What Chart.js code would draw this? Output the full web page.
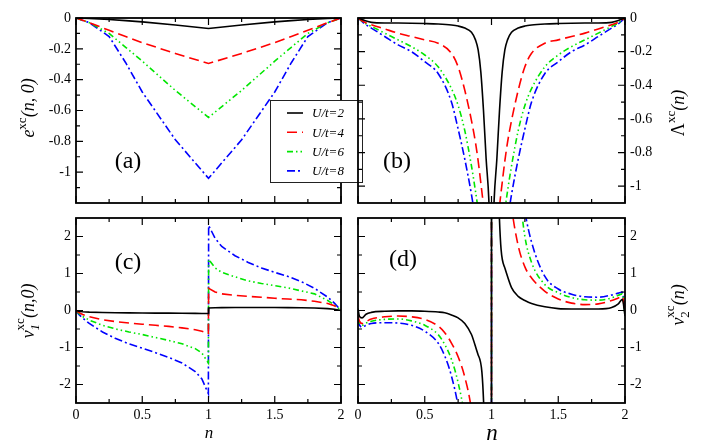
<!DOCTYPE html>
<html>
<head>
<meta charset="utf-8">
<script src="https://cdn.jsdelivr.net/npm/chart.js@4.4.1/dist/chart.umd.min.js"></script>
<style>
  body { margin: 0; background: #fff; }
  #wrap { position: relative; width: 703px; height: 448px; }
  #wrap canvas { position: absolute; left: 0; top: 0; }
</style>
</head>
<body>
<div id="wrap">
  <canvas id="cA" width="703" height="448"></canvas>
  <canvas id="cB" width="703" height="448"></canvas>
  <canvas id="cC" width="703" height="448"></canvas>
  <canvas id="cD" width="703" height="448"></canvas>
</div>
<script>
// series
const seriesNames = ["U/t=2", "U/t=4", "U/t=6", "U/t=8"];
const seriesColors = ["#000000", "#ff0000", "#00e600", "#0000ff"];
const seriesDash = [[], [10, 5], [6, 3, 1.5, 3, 1.5, 3], [8, 3, 2, 3]];

// ticks
const xLabels = [0, 0.5, 1, 1.5, 2];
const xMinor = [0.25, 0.75, 1.25, 1.75];
const yLabelsAB = [0, -0.2, -0.4, -0.6, -0.8, -1];
const yMinorA = [-0.1, -0.3, -0.5, -0.7, -0.9, -1.1];
const yMinorB = [-0.1, -0.3, -0.5, -0.7, -0.9];
const yLabelsCD = [-2, -1, 0, 1, 2];
const yMinorCD = [-1.5, -0.5, 0.5, 1.5];

// (a) e^xc(n,0)
const nA = [0, 0.1, 0.25, 0.375, 0.5, 0.75, 1, 1.25, 1.5, 1.625, 1.75, 1.9, 2];
const excU2 = [0, -0.003, -0.01, -0.017, -0.025, -0.045, -0.068, -0.045, -0.025, -0.017, -0.01, -0.003, 0];
const excU4 = [0, -0.03, -0.08, -0.12, -0.16, -0.23, -0.295, -0.23, -0.16, -0.12, -0.08, -0.03, 0];
const excU6 = [0, -0.03, -0.1, -0.19, -0.28, -0.47, -0.645, -0.47, -0.28, -0.19, -0.1, -0.03, 0];
const excU8 = [0, -0.03, -0.12, -0.29, -0.48, -0.79, -1.04, -0.79, -0.48, -0.29, -0.12, -0.03, 0];

// (b) Lambda^xc(n)
const nB = [0, 0.05, 0.1, 0.2, 0.3, 0.4, 0.5, 0.6, 0.7, 0.75, 0.8, 0.85, 0.88, 0.9, 0.92, 0.94, 0.96, 0.98, 1,
  1.02, 1.04, 1.06, 1.08, 1.1, 1.12, 1.15, 1.2, 1.25, 1.3, 1.4, 1.5, 1.6, 1.7, 1.8, 1.9, 1.95, 2];
const lamU2 = [0, -0.015, -0.026, -0.03, -0.03, -0.031, -0.033, -0.036, -0.042, -0.048, -0.06, -0.085, -0.13, -0.19, -0.32, -0.55, -0.84, -1.08, -1.6,
  -1.08, -0.84, -0.55, -0.32, -0.19, -0.13, -0.085, -0.06, -0.048, -0.042, -0.036, -0.033, -0.031, -0.03, -0.03, -0.026, -0.015, 0];
const lamU4 = [0, -0.025, -0.04, -0.065, -0.09, -0.11, -0.13, -0.15, -0.21, -0.29, -0.43, -0.61, -0.74, -0.85, -0.98, -1.12, -1.3, -1.6, -2,
  -1.6, -1.3, -1.12, -0.98, -0.85, -0.74, -0.61, -0.43, -0.29, -0.21, -0.15, -0.13, -0.11, -0.09, -0.065, -0.04, -0.025, 0];
const lamU6 = [0, -0.03, -0.05, -0.09, -0.13, -0.17, -0.22, -0.29, -0.42, -0.52, -0.67, -0.88, -1.03, -1.14, -1.27, -1.42, -1.6, -1.9, -2.3,
  -1.9, -1.6, -1.42, -1.27, -1.14, -1.03, -0.88, -0.67, -0.52, -0.42, -0.29, -0.22, -0.17, -0.13, -0.09, -0.05, -0.03, 0];
const lamU8 = [0, -0.035, -0.06, -0.11, -0.16, -0.2, -0.26, -0.33, -0.5, -0.66, -0.84, -1.05, -1.2, -1.3, -1.42, -1.56, -1.75, -2, -2.4,
  -2, -1.75, -1.56, -1.42, -1.3, -1.2, -1.05, -0.84, -0.66, -0.5, -0.33, -0.26, -0.2, -0.16, -0.11, -0.06, -0.035, 0];

// (c) v1^xc(n,0)
const nC = [0, 0.02, 0.05, 0.1, 0.2, 0.3, 0.4, 0.5, 0.6, 0.7, 0.8, 0.9, 0.95, 0.999,
  1.001, 1.05, 1.1, 1.2, 1.3, 1.4, 1.5, 1.6, 1.7, 1.8, 1.9, 1.95, 2];
const v1U2 = [0, -0.02, -0.035, -0.045, -0.055, -0.06, -0.065, -0.068, -0.07, -0.072, -0.075, -0.078, -0.08, -0.08,
  0.07, 0.075, 0.078, 0.08, 0.08, 0.08, 0.08, 0.078, 0.074, 0.066, 0.05, 0.035, 0];
const v1U4 = [0, -0.05, -0.11, -0.17, -0.25, -0.3, -0.34, -0.37, -0.4, -0.43, -0.47, -0.52, -0.56, -0.62,
  0.6, 0.5, 0.45, 0.41, 0.38, 0.36, 0.33, 0.31, 0.29, 0.25, 0.19, 0.13, 0];
const v1U6 = [0, -0.07, -0.16, -0.26, -0.4, -0.5, -0.58, -0.65, -0.73, -0.81, -0.9, -1.03, -1.15, -1.42,
  1.38, 1.15, 1.03, 0.91, 0.8, 0.73, 0.67, 0.61, 0.53, 0.45, 0.27, 0.15, 0];
const v1U8 = [0, -0.1, -0.2, -0.35, -0.58, -0.76, -0.9, -1.02, -1.14, -1.27, -1.42, -1.65, -1.85, -2.25,
  2.3, 1.95, 1.73, 1.48, 1.3, 1.15, 1.03, 0.92, 0.78, 0.6, 0.36, 0.2, 0];

// (d) v2^xc(n)
const nD = [0, 0.01, 0.03, 0.06, 0.1, 0.2, 0.3, 0.4, 0.5, 0.6, 0.65, 0.7, 0.75, 0.8, 0.85, 0.9, 0.95, 0.999,
  1.001, 1.05, 1.1, 1.15, 1.2, 1.25, 1.3, 1.4, 1.5, 1.6, 1.7, 1.8, 1.9, 1.95, 1.98, 2];
const v2U2 = [0.05, -0.15, -0.2, -0.1, -0.05, -0.02, -0.01, -0.01, -0.02, -0.04, -0.06, -0.12, -0.2, -0.35, -0.65, -1.2, -3.5, -40,
  40, 3.6, 1.15, 0.62, 0.38, 0.27, 0.19, 0.1, 0.05, 0.04, 0.04, 0.04, 0.08, 0.18, 0.3, -0.15];
const v2U4 = [-0.15, -0.28, -0.35, -0.3, -0.23, -0.17, -0.15, -0.17, -0.24, -0.42, -0.6, -0.88, -1.25, -1.8, -2.7, -4.5, -9, -40,
  40, 9, 4.5, 2.8, 1.75, 1.18, 0.88, 0.52, 0.31, 0.2, 0.16, 0.18, 0.27, 0.34, 0.38, -0.1];
const v2U6 = [-0.2, -0.33, -0.4, -0.34, -0.29, -0.24, -0.23, -0.28, -0.4, -0.65, -0.92, -1.32, -1.95, -2.9, -4.5, -7, -12, -40,
  40, 12, 7, 5, 3.5, 2.0, 1.3, 0.7, 0.48, 0.35, 0.29, 0.28, 0.34, 0.41, 0.45, -0.1];
const v2U8 = [-0.25, -0.38, -0.45, -0.4, -0.35, -0.33, -0.34, -0.4, -0.56, -0.88, -1.23, -1.77, -2.6, -4, -6, -9, -15, -40,
  40, 15, 9, 6, 4.2, 2.7, 1.85, 0.92, 0.58, 0.44, 0.37, 0.36, 0.42, 0.47, 0.5, -0.1];

const SERIF = "'Liberation Serif', 'DejaVu Serif', serif";
const W = 703, H = 448;
const Y_AXIS_W = 50, X_AXIS_H = 30;

function buildSets(xs, list) {
  return list.map((ys, k) => ({
    label: seriesNames[k],
    data: xs.map((x, i) => ({ x: x, y: ys[i] })),
    borderColor: seriesColors[k],
    borderDash: seriesDash[k],
    borderWidth: 1.6,
    pointRadius: 0,
    fill: false
  }));
}

// draws text made of pieces (italic, super/subscript), optionally rotated
function drawRich(ctx, parts, x, y, rotate) {
  ctx.save();
  ctx.translate(x, y);
  if (rotate) ctx.rotate(-Math.PI / 2);
  ctx.textBaseline = "alphabetic";
  ctx.textAlign = "left";
  ctx.fillStyle = "#000";
  const widths = parts.map((p) => { ctx.font = p.f; return ctx.measureText(p.t).width; });
  const pos = [];
  let cursor = 0;
  parts.forEach((p, i) => {
    pos[i] = p.back ? pos[i - 1] : cursor;
    cursor = p.back ? Math.max(cursor, pos[i] + widths[i]) : cursor + widths[i];
  });
  parts.forEach((p, i) => {
    ctx.font = p.f;
    ctx.fillText(p.t, pos[i] - cursor / 2, p.dy || 0);
  });
  ctx.restore();
}

function decorPlugin(p) {
  return {
    id: "decor",
    afterDatasetsDraw(chart) {
      const { ctx, chartArea: a, scales } = chart;
      const xs = scales.x, ys = scales.y;
      ctx.save();
      ctx.strokeStyle = "#000";
      ctx.lineWidth = 1.2;
      ctx.beginPath();
      const xTick = (v, len) => {
        const px = xs.getPixelForValue(v);
        ctx.moveTo(px, a.bottom); ctx.lineTo(px, a.bottom - len);
        ctx.moveTo(px, a.top); ctx.lineTo(px, a.top + len);
      };
      const yTick = (v, len) => {
        const py = ys.getPixelForValue(v);
        ctx.moveTo(a.left, py); ctx.lineTo(a.left + len, py);
        ctx.moveTo(a.right, py); ctx.lineTo(a.right - len, py);
      };
      xLabels.forEach((v) => xTick(v, 7));
      xMinor.forEach((v) => xTick(v, 4));
      p.yMajor.forEach((v) => yTick(v, 7));
      p.yMinor.forEach((v) => yTick(v, 4));
      ctx.stroke();
      ctx.lineWidth = 1.8;
      ctx.strokeRect(a.left, a.top, a.right - a.left, a.bottom - a.top);

      // panel tag
      ctx.fillStyle = "#000";
      ctx.font = "24px " + SERIF;
      ctx.textAlign = "center";
      ctx.textBaseline = "middle";
      ctx.fillText(p.tag, p.tagX, p.tagY);
      ctx.restore();

      // axis titles
      drawRich(ctx, p.yTitle, p.yTitleX, p.yTitleY, true);
      if (p.xTitle) drawRich(ctx, p.xTitle, p.xTitleX, p.xTitleY, false);
      if (p.legend) drawLegend(ctx);
    }
  };
}

function drawLegend(ctx) {
  ctx.save();
  ctx.fillStyle = "#fff";
  ctx.fillRect(270, 100, 93, 83);
  ctx.strokeStyle = "#222";
  ctx.lineWidth = 1;
  ctx.strokeRect(270.5, 100.5, 92, 82);
  ctx.font = "italic 13px " + SERIF;
  ctx.textAlign = "left";
  ctx.textBaseline = "middle";
  seriesNames.forEach((name, k) => {
    const y = 113 + k * 19.3;
    ctx.beginPath();
    ctx.strokeStyle = seriesColors[k];
    ctx.lineWidth = 1.6;
    ctx.setLineDash(seriesDash[k]);
    ctx.moveTo(287, y);
    ctx.lineTo(303, y);
    ctx.stroke();
    ctx.setLineDash([]);
    ctx.fillStyle = "#000";
    ctx.fillText(name, 312, y + 1);
  });
  ctx.restore();
}

function makePanel(p) {
  const r = p.rect;
  const padding = {
    top: r.t,
    left: p.side === "left" ? r.l - Y_AXIS_W : r.l,
    right: p.side === "right" ? W - r.r - Y_AXIS_W : W - r.r,
    bottom: p.showX ? H - r.b - X_AXIS_H : H - r.b
  };
  const tickFont = { family: SERIF, size: 14 };
  return new Chart(document.getElementById(p.id), {
    type: "line",
    data: { datasets: buildSets(p.xs, p.series) },
    options: {
      responsive: false,
      animation: false,
      layout: { padding: padding },
      plugins: { legend: { display: false }, tooltip: { enabled: false } },
      elements: {
        line: {
          tension: 0,
          cubicInterpolationMode: p.mono ? "monotone" : "default"
        }
      },
      scales: {
        x: {
          type: "linear",
          min: 0,
          max: 2,
          display: p.showX,
          grid: { display: false, drawTicks: false },
          border: { display: false },
          ticks: { color: "#000", font: tickFont, padding: 4, maxRotation: 0, callback: (v) => String(v) },
          afterBuildTicks: (s) => { s.ticks = xLabels.map((v) => ({ value: v })); },
          afterFit: (s) => { if (p.showX) s.height = X_AXIS_H; }
        },
        y: {
          type: "linear",
          position: p.side,
          min: p.yMin,
          max: p.yMax,
          grid: { display: false, drawTicks: false },
          border: { display: false },
          ticks: { color: "#000", font: tickFont, padding: 5, callback: (v) => String(v) },
          afterBuildTicks: (s) => { s.ticks = p.yMajor.map((v) => ({ value: v })); },
          afterFit: (s) => { s.width = Y_AXIS_W; }
        }
      }
    },
    plugins: [decorPlugin(p)]
  });
}

const supF = "13px " + SERIF;
const itF = "italic 18px " + SERIF;

makePanel({
  id: "cA", xs: nA, series: [excU2, excU4, excU6, excU8], mono: false,
  rect: { l: 76, t: 18, r: 341, b: 203 }, side: "left", showX: false,
  yMin: -1.2, yMax: 0, yMajor: yLabelsAB, yMinor: yMinorA,
  tag: "(a)", tagX: 128, tagY: 162, legend: true,
  yTitle: [{ t: "e", f: itF }, { t: "xc", f: supF, dy: -8 }, { t: "(n, 0)", f: itF }],
  yTitleX: 34, yTitleY: 108
});

makePanel({
  id: "cB", xs: nB, series: [lamU2, lamU4, lamU6, lamU8], mono: true,
  rect: { l: 358, t: 18, r: 625, b: 203 }, side: "right", showX: false,
  yMin: -1.1, yMax: 0, yMajor: yLabelsAB, yMinor: yMinorB,
  tag: "(b)", tagX: 397, tagY: 162,
  yTitle: [{ t: "\u039B", f: "18px " + SERIF }, { t: "xc", f: supF, dy: -9 }, { t: "(n)", f: itF }],
  yTitleX: 684, yTitleY: 113
});

makePanel({
  id: "cC", xs: nC, series: [v1U2, v1U4, v1U6, v1U8], mono: false,
  rect: { l: 76, t: 218, r: 341, b: 403 }, side: "left", showX: true,
  yMin: -2.5, yMax: 2.5, yMajor: yLabelsCD, yMinor: yMinorCD,
  tag: "(c)", tagX: 128, tagY: 263,
  yTitle: [{ t: "v", f: itF }, { t: "1", f: "italic 13px " + SERIF, dy: 5 },
    { t: "xc", f: supF, dy: -10, back: true }, { t: "(n,0)", f: itF }],
  yTitleX: 34, yTitleY: 311,
  xTitle: [{ t: "n", f: "italic 17px " + SERIF }], xTitleX: 209, xTitleY: 438
});

makePanel({
  id: "cD", xs: nD, series: [v2U2, v2U4, v2U6, v2U8], mono: true,
  rect: { l: 358, t: 218, r: 625, b: 403 }, side: "right", showX: true,
  yMin: -2.5, yMax: 2.5, yMajor: yLabelsCD, yMinor: yMinorCD,
  tag: "(d)", tagX: 403, tagY: 260,
  yTitle: [{ t: "v", f: itF }, { t: "2", f: "13px " + SERIF, dy: 5 },
    { t: "xc", f: supF, dy: -10, back: true }, { t: "(n)", f: itF }],
  yTitleX: 684, yTitleY: 305,
  xTitle: [{ t: "n", f: "italic 23px " + SERIF }], xTitleX: 492, xTitleY: 440
});
</script>
</body>
</html>
